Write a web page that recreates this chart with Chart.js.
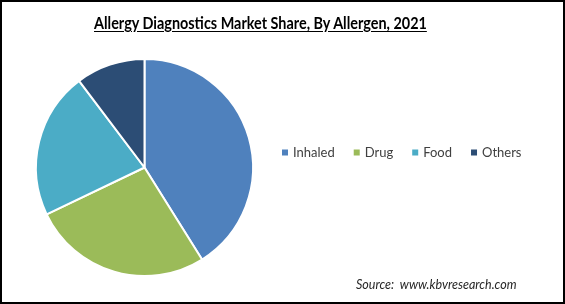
<!DOCTYPE html>
<html>
<head>
<meta charset="utf-8">
<script src="https://cdn.jsdelivr.net/npm/chart.js@4.4.1/dist/chart.umd.min.js"></script>
<style>
  html, body { margin: 0; padding: 0; background: #fff; }
  #wrap { position: relative; width: 565px; height: 304px; }
  #border { position: absolute; left: 0; top: 0; width: 565px; height: 304px; box-sizing: border-box; border: 2px solid #000; pointer-events: none; }
  #title { position: absolute; top: 12px; left: 94px; }
  #title span { display: inline-block; font: bold 17px Lato, "Open Sans", sans-serif; color: #000; text-decoration: underline; text-underline-offset: 2px; transform-origin: left center; white-space: nowrap; }
  #source { position: absolute; left: 356px; top: 277px; font: italic 12.5px Lato, "Open Sans", sans-serif; color: #262626; white-space: nowrap; }
</style>
</head>
<body>
<div id="wrap">
  <canvas id="pie"></canvas>
  <div id="title"><span>Allergy Diagnostics Market Share, By Allergen, 2021</span></div>
  <div id="source">Source:&nbsp; www.kbvresearch.com</div>
  <div id="border"></div>
</div>
<script>
// data (share, %)
const labels = ['Inhaled', 'Drug', 'Food', 'Others'];
const shares = [41.1, 26.8, 21.8, 10.3];
const colors = ['#4F81BD', '#9BBB59', '#4BACC6', '#2C4D75'];

// squeeze the title to the width of the original
const t = document.querySelector('#title span');
t.style.transform = `scaleX(${333 / t.offsetWidth})`;

// legend drawn in a single row to the right of the pie
const rowLegend = {
  id: 'rowLegend',
  afterDraw(chart) {
    const ctx = chart.ctx;
    const ds = chart.data.datasets[0];
    ctx.save();
    ctx.font = '13px Lato, "Open Sans", sans-serif';
    ctx.textBaseline = 'middle';
    let x = 282;
    const y = 152.5;
    chart.data.labels.forEach((lab, i) => {
      ctx.fillStyle = ds.backgroundColor[i];
      ctx.fillRect(x, y - 3, 6, 6);
      ctx.fillStyle = '#404040';
      ctx.fillText(lab, x + 11, y);
      x += 11 + ctx.measureText(lab).width + 19;
    });
    ctx.restore();
  },
};

new Chart(document.getElementById('pie'), {
  type: 'pie',
  data: {
    labels: labels,
    datasets: [{
      data: shares,
      backgroundColor: colors,
      borderColor: '#fff',
      borderWidth: 2,
    }],
  },
  options: {
    responsive: true,
    maintainAspectRatio: false,
    animation: false,
    layout: {
      padding: { left: 35, top: 58, right: 311, bottom: 27 },
    },
    plugins: {
      legend: { display: false },
      tooltip: { enabled: false },
    },
  },
  plugins: [rowLegend],
});
</script>
</body>
</html>
